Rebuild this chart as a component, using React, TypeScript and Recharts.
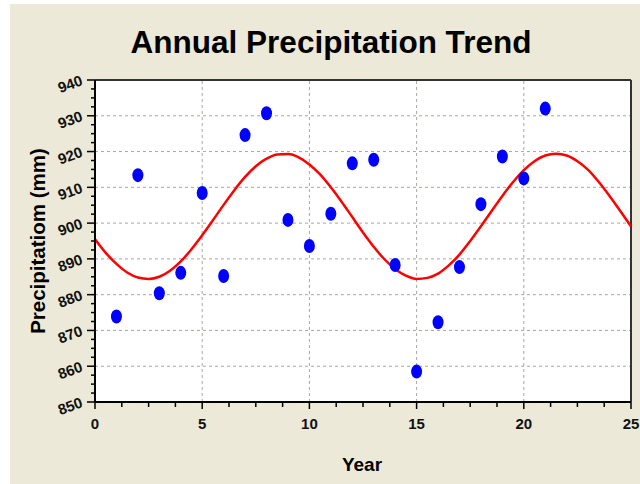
import { ComposedChart, Line, Scatter, XAxis, YAxis, ReferenceLine } from "recharts";

// observed annual totals (mm)
const years = [1, 2, 3, 4, 5, 6, 7, 8, 9, 10, 11, 12, 13, 14, 15, 16, 17, 18, 19, 20, 21];
const precipitation = [
  873.9, 913.4, 880.4, 886.1, 908.4, 885.2, 924.6, 930.7, 900.9, 893.6, 902.6,
  916.7, 917.7, 888.3, 858.5, 872.3, 887.7, 905.3, 918.6, 912.5, 932.0,
];

const trendYears = [
  0, 0.5, 1, 1.5, 2, 2.5, 3, 3.5, 4, 4.5, 5, 5.5, 6, 6.5, 7, 7.5, 8, 8.5, 9, 9.5, 10,
  10.5, 11, 11.5, 12, 12.5, 13, 13.5, 14, 14.5, 15, 15.5, 16, 16.5, 17, 17.5, 18, 18.5,
  19, 19.5, 20, 20.5, 21, 21.5, 22, 22.5, 23, 23.5, 24, 24.5, 25,
];
const trendValues = [
  895.5, 891.7, 888.6, 886.2, 884.8, 884.4, 885.0, 886.7, 889.3, 892.7, 896.6, 900.8,
  905.1, 909.2, 912.9, 915.9, 918.0, 919.2, 919.3, 918.4, 916.4, 913.6, 910.0, 906.0,
  901.7, 897.4, 893.4, 889.9, 887.2, 885.3, 884.4, 884.7, 885.9, 888.2, 891.2, 895.0,
  899.1, 903.4, 907.6, 911.5, 914.8, 917.3, 918.9, 919.4, 918.9, 917.3, 914.9, 911.5,
  907.6, 903.4, 899.1,
];

const xTicks = [
  0, 1.25, 2.5, 3.75, 5, 6.25, 7.5, 8.75, 10, 11.25, 12.5, 13.75, 15, 16.25, 17.5,
  18.75, 20, 21.25, 22.5, 23.75, 25,
];
const yTicks = [
  850, 852.5, 855, 857.5, 860, 862.5, 865, 867.5, 870, 872.5, 875, 877.5, 880, 882.5,
  885, 887.5, 890, 892.5, 895, 897.5, 900, 902.5, 905, 907.5, 910, 912.5, 915, 917.5,
  920, 922.5, 925, 927.5, 930, 932.5, 935, 937.5, 940,
];
const xGrid = [5, 10, 15, 20];
const yGrid = [860, 870, 880, 890, 900, 910, 920, 930];

const points = years.map((x, i) => ({ x, y: precipitation[i] }));
const trend = trendYears.map((x, i) => ({ x, y: trendValues[i] }));

const FONT = '"Liberation Sans", Arial, sans-serif';

function YTick({ x, y, payload }: any) {
  const v = payload.value;
  const major = v % 10 === 0;
  return (
    <g>
      <line x1={x} x2={x - (major ? 8 : 4)} y1={y} y2={y} stroke="#000" strokeWidth={1.5} />
      {major && (
        <text
          x={x - 13}
          y={y + 5}
          textAnchor="end"
          transform={`rotate(-20, ${x - 13}, ${y})`}
          fontFamily={FONT}
          fontWeight="bold"
          fontSize={15}
          fill="#111"
        >
          {v}
        </text>
      )}
    </g>
  );
}

function XTick({ x, y, payload }: any) {
  const v = payload.value;
  const major = v % 5 === 0;
  return (
    <g>
      <line x1={x} x2={x} y1={y} y2={y + (major ? 7 : 5)} stroke="#000" strokeWidth={1.5} />
      {major && (
        <text x={x} y={y + 27} textAnchor="middle" fontFamily={FONT} fontWeight="bold" fontSize={15} fill="#111">
          {v}
        </text>
      )}
    </g>
  );
}

const Dot = ({ cx, cy }: any) => <ellipse cx={cx} cy={cy} rx={5.5} ry={7} fill="#0000ff" />;

export default function App() {
  return (
    <div style={{ position: "absolute", left: 0, top: 0, width: 640, height: 484, background: "#fff", fontFamily: FONT }}>
      <div style={{ position: "absolute", left: 10, top: 4, width: 630, height: 480, background: "#ECE9D8" }} />
      <div
        style={{
          position: "absolute",
          left: 0,
          top: 24,
          width: 662,
          textAlign: "center",
          fontSize: 31.5,
          fontWeight: "bold",
          color: "#000",
        }}
      >
        Annual Precipitation Trend
      </div>
      <div
        style={{
          position: "absolute",
          left: 38 - 160,
          top: 241 - 13,
          width: 320,
          height: 26,
          lineHeight: "26px",
          textAlign: "center",
          fontSize: 20.5,
          fontWeight: "bold",
          color: "#000",
          transform: "rotate(-90deg)",
        }}
      >
        Precipitatiom (mm)
      </div>
      <div
        style={{
          position: "absolute",
          left: 262,
          top: 454,
          width: 200,
          textAlign: "center",
          fontSize: 19,
          fontWeight: "bold",
          color: "#000",
        }}
      >
        Year
      </div>
      <div style={{ position: "absolute", left: 0, top: 0 }}>
        <ComposedChart width={640} height={484} margin={{ top: 80, right: 9, bottom: 52, left: 45 }}>
          <rect x={95} y={80} width={536} height={322} fill="#fff" />
          <XAxis
            dataKey="x"
            type="number"
            domain={[0, 25]}
            ticks={xTicks}
            interval={0}
            height={30}
            tickSize={0}
            tickMargin={0}
            tickLine={false}
            tick={<XTick />}
            axisLine={{ stroke: "#000", strokeWidth: 2 }}
          />
          <YAxis
            dataKey="y"
            type="number"
            domain={[850, 940]}
            ticks={yTicks}
            interval={0}
            width={50}
            tickSize={0}
            tickMargin={0}
            tickLine={false}
            tick={<YTick />}
            axisLine={{ stroke: "#000", strokeWidth: 2 }}
          />
          {yGrid.map((v) => (
            <ReferenceLine key={`h${v}`} y={v} stroke="#a8a8a0" strokeDasharray="3 3" />
          ))}
          {xGrid.map((v) => (
            <ReferenceLine key={`v${v}`} x={v} stroke="#a8a8a0" strokeDasharray="3 3" />
          ))}
          <ReferenceLine y={940} stroke="#333" strokeWidth={2} />
          <ReferenceLine x={25} stroke="#333" strokeWidth={2} />
          <Line
            data={trend}
            dataKey="y"
            type="monotone"
            stroke="#ff0000"
            strokeWidth={2.5}
            dot={false}
            activeDot={false}
            isAnimationActive={false}
          />
          <Scatter data={points} dataKey="y" fill="#0000ff" shape={<Dot />} isAnimationActive={false} />
        </ComposedChart>
      </div>
    </div>
  );
}
